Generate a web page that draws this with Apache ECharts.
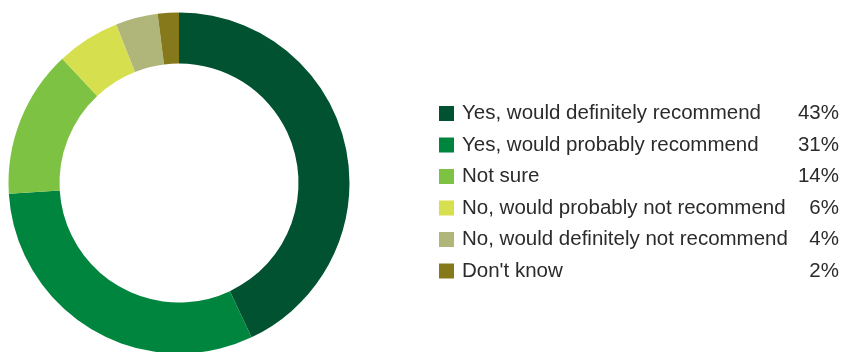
<!DOCTYPE html>
<html>
<head>
<meta charset="utf-8">
<script src="https://cdn.jsdelivr.net/npm/echarts@6/dist/echarts.min.js"></script>
<style>html,body{margin:0;padding:0;background:#fff;}#c{width:841px;height:352px;}</style>
</head>
<body>
<div id="c"></div>
<script>
var categories = ["Yes, would definitely recommend","Yes, would probably recommend","Not sure","No, would probably not recommend","No, would definitely not recommend","Don't know"];
var values = [43, 31, 14, 6, 4, 2];
var colors = ["#005230","#00853F","#7DC242","#D6E04E","#B0B67A","#86791B"];

var chart = echarts.init(document.getElementById('c'), null, {renderer:'canvas'});
var data = categories.map(function(c,i){ return {name:c, value:values[i], itemStyle:{color:colors[i]}}; });
var valMap = {};
categories.forEach(function(c,i){ valMap[c]=values[i]; });
var FS = 20.5;
var FF = 'Liberation Sans, Arial, sans-serif';
chart.setOption({
  animation:false,
  legend:{
    orient:'vertical', left:439, top:103, padding:0,
    itemWidth:15, itemHeight:15, itemGap:10.5, icon:'rect',
    data: categories,
    formatter:function(n){ return '{n|'+n+'}{p|'+valMap[n]+'%}'; },
    textStyle:{
      fontFamily:FF, fontSize:FS, color:'#2b2b2b',
      rich:{
        n:{width:317, padding:[0,0,0,3], fontSize:FS, color:'#2b2b2b', fontFamily:FF},
        p:{width:60, align:'right', fontSize:FS, color:'#2b2b2b', fontFamily:FF}
      }
    },
    selectedMode:false
  },
  series:[{
    type:'pie', center:[179,183], radius:[119.5,170.5], startAngle:90, clockwise:true,
    label:{show:false}, labelLine:{show:false}, emphasis:{disabled:true},
    data:data
  }]
});
</script>
</body>
</html>
